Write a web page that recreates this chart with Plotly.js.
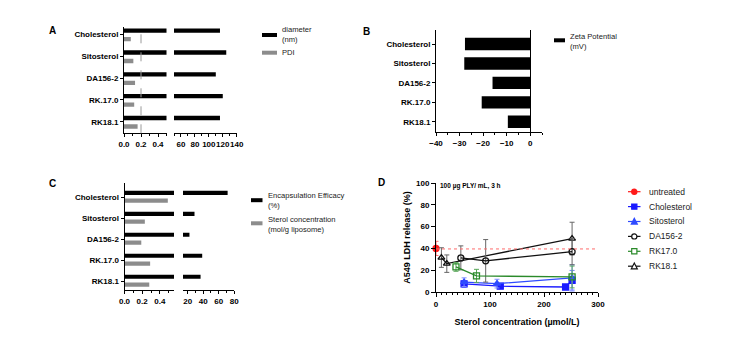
<!DOCTYPE html>
<html><head><meta charset="utf-8">
<script src="https://cdn.plot.ly/plotly-3.0.1.min.js"></script>
<style>html,body{margin:0;padding:0;background:#fff}#chart{width:730px;height:349px}</style>
</head><body><div id="chart"></div>
<script>
// ---------- DATA ----------
const categories = ['Cholesterol', 'Sitosterol', 'DA156-2', 'RK.17.0', 'RK18.1'];
const diameterNm = [116, 125, 110, 120, 116];
const pdi = [0.08, 0.11, 0.13, 0.12, 0.16];
const zetaMv = [-27.7, -28, -16, -20.6, -9.5];
const encapEfficacy = [71.4, 28.8, 22.3, 38.7, 36.6];
const sterolConc = [0.49, 0.23, 0.19, 0.29, 0.28];
const pdiThreshold = 0.2;

const seriesNames = ['untreated', 'Cholesterol', 'Sitosterol', 'DA156-2', 'RK17.0', 'RK18.1'];
const untreatedX = [0], untreatedY = [40], untreatedErr = [6.5];
const cholX = [52, 119, 240, 252], cholY = [7.4, 5.3, 4.6, 10.8], cholErr = [3, 2, 2, 9];
const sitoX = [52, 113, 252], sitoY = [9, 7.7, 12.9], sitoErr = [4, 4, 12];
const da156X = [46, 92, 252], da156Y = [31.3, 28.6, 37], da156Err = [11, 19.5, 12];
const rk170X = [37, 75, 252], rk170Y = [23, 14.8, 13.8], rk170Err = [4, 6, 10];
const rk181X = [10, 20, 252], rk181Y = [31.6, 26, 49], rk181Err = [9, 8, 15];
const untreatedLevel = 39.5;

// ---------- HELPERS ----------
const W = 730, H = 349;
const px = v => v / W;
const py = v => 1 - v / H;
const FONT = 'Liberation Sans, Arial, sans-serif';
const bold = s => ({family: FONT, size: s, color: '#000000', weight: 'bold'});
const reg = s => ({family: FONT, size: s, color: '#1a1a1a'});
const catIndex = categories.map((_, i) => i);

function xAx(d0, d1, range, tickvals, fmt, minorDtick, minorTick0, anchor, extra) {
  return Object.assign({
    domain: [px(d0), px(d1)], range: range, anchor: anchor,
    showline: true, linecolor: '#000', linewidth: 1,
    ticks: 'outside', ticklen: 3, tickwidth: 1, tickcolor: '#000', tickangle: 0,
    tickmode: 'array', tickvals: tickvals, tickformat: fmt, tickfont: bold(8),
    showgrid: false, zeroline: false, fixedrange: true,
    minor: {dtick: minorDtick, tick0: minorTick0, ticks: 'outside', ticklen: 2, tickcolor: '#000', showgrid: false}
  }, extra || {});
}
function yCat(top, bottom, range, anchor) {
  return {
    domain: [py(bottom), py(top)], range: range, anchor: anchor,
    tickmode: 'array', tickvals: catIndex, ticktext: categories,
    showline: true, linecolor: '#000', linewidth: 1,
    ticks: 'outside', ticklen: 3, tickcolor: '#000', tickfont: bold(8),
    showgrid: false, zeroline: false, fixedrange: true
  };
}

const BLACK = '#000000', GRAY = '#8c8c8c';
const traces = [];
function hbar(x, xa, ya, width, offset, color, name) {
  return {type: 'bar', orientation: 'h', x: x, y: catIndex, xaxis: xa, yaxis: ya,
    width: width, offset: offset, marker: {color: color, line: {width: 0}},
    name: name, showlegend: false, cliponaxis: true, hoverinfo: 'x+y'};
}
// Panel A
traces.push(hbar(diameterNm, 'x', 'y', 0.2, -0.27, BLACK, 'diameter (nm)'));
traces.push(hbar(diameterNm, 'x2', 'y', 0.2, -0.27, BLACK, 'diameter (nm)'));
traces.push(hbar(pdi, 'x', 'y', 0.2, 0.12, GRAY, 'PDI'));
// Panel B
traces.push(hbar(zetaMv, 'x3', 'y3', 0.64, -0.32, BLACK, 'Zeta Potential (mV)'));
// Panel C
traces.push(hbar(encapEfficacy, 'x4', 'y4', 0.2, -0.33, BLACK, 'Encapsulation Efficacy (%)'));
traces.push(hbar(encapEfficacy, 'x5', 'y4', 0.2, -0.33, BLACK, 'Encapsulation Efficacy (%)'));
traces.push(hbar(sterolConc, 'x4', 'y4', 0.21, 0.04, GRAY, 'Sterol concentration (mol/g liposome)'));

// Panel D
const dSeries = [
  {name: seriesNames[0], x: untreatedX, y: untreatedY, e: untreatedErr, color: '#ff1a1a', ecolor: '#ff6b6b', symbol: 'circle', open: false, mode: 'markers'},
  {name: seriesNames[1], x: cholX, y: cholY, e: cholErr, color: '#1a1aff', ecolor: '#6f7dff', symbol: 'square', open: false, mode: 'lines+markers'},
  {name: seriesNames[2], x: sitoX, y: sitoY, e: sitoErr, color: '#2f4bff', ecolor: '#8090ff', symbol: 'triangle-up', open: false, mode: 'lines+markers'},
  {name: seriesNames[5], x: rk181X, y: rk181Y, e: rk181Err, color: '#111111', ecolor: '#666666', symbol: 'triangle-up-open', open: true, mode: 'lines+markers'},
  {name: seriesNames[3], x: da156X, y: da156Y, e: da156Err, color: '#111111', ecolor: '#666666', symbol: 'circle-open', open: true, mode: 'lines+markers'},
  {name: seriesNames[4], x: rk170X, y: rk170Y, e: rk170Err, color: '#2a8a2a', ecolor: '#5aa85a', symbol: 'square-open', open: true, mode: 'lines+markers'}
];
dSeries.forEach(s => {
  traces.push({
    type: 'scatter', mode: s.mode, name: s.name, x: s.x, y: s.y, xaxis: 'x6', yaxis: 'y6',
    error_y: {type: 'data', array: s.e, visible: true, color: s.ecolor, thickness: 1, width: 2.5},
    line: {color: s.color, width: 1.3},
    marker: {symbol: s.symbol, size: 6, color: s.color, line: {color: s.color, width: 1.3}},
    cliponaxis: false, showlegend: false
  });
});

// ---------- LAYOUT ----------
const layout = {
  width: W, height: H, margin: {l: 0, r: 0, t: 0, b: 0},
  paper_bgcolor: '#fff', plot_bgcolor: 'rgba(0,0,0,0)',
  barmode: 'overlay', showlegend: false,
  font: {family: FONT, size: 8, color: '#000'},
  // Panel A
  xaxis: xAx(124, 166.5, [0, 0.5], [0, 0.2, 0.4], '.1f', 0.1, 0, 'y'),
  xaxis2: xAx(174, 236.7, [50, 140], [60, 80, 100, 120, 140], 'd', 10, 50, 'y'),
  yaxis: yCat(26.7, 133.3, [4.53, -0.35], 'x'),
  // Panel B
  xaxis3: xAx(436, 542, [-40, 5], [-40, -30, -20, -10, 0], 'd', 5, 0, 'y3',
    {zeroline: true, zerolinecolor: '#000', zerolinewidth: 1}),
  yaxis3: yCat(30, 132.3, [4.54, -0.72], 'x3'),
  // Panel C
  xaxis4: xAx(124.5, 174, [0, 0.56], [0, 0.2, 0.4], '.1f', 0.1, 0, 'y4'),
  xaxis5: xAx(183, 234.3, [14, 80], [20, 40, 60, 80], 'd', 10, 0, 'y4'),
  yaxis4: yCat(182.7, 290, [4.4, -0.71], 'x4'),
  // Panel D
  xaxis6: xAx(436, 598, [0, 300], [0, 100, 200, 300], 'd', 10, 0, 'y6',
    {ticklen: 4, title: {text: 'Sterol concentration (µmol/L)', font: bold(9), standoff: 11}}),
  yaxis6: {
    domain: [py(292), py(183)], range: [0, 100], anchor: 'x6',
    showline: true, linecolor: '#000', linewidth: 1, ticks: 'outside', ticklen: 4, tickcolor: '#000',
    tickmode: 'array', tickvals: [0, 20, 40, 60, 80, 100], tickfont: bold(8),
    showgrid: false, zeroline: false, fixedrange: true,
    title: {text: 'A549 LDH release (%)', font: bold(9), standoff: 3}
  },
  shapes: [], annotations: []
};

// dashed PDI threshold line
layout.shapes.push({type: 'line', xref: 'x', yref: 'paper', x0: pdiThreshold, x1: pdiThreshold,
  y0: py(133.3), y1: py(26.7), line: {color: '#9a9a9a', width: 1, dash: 'dash'}});
// untreated reference dotted line
layout.shapes.push({type: 'line', xref: 'x6', yref: 'y6', x0: 0, x1: 300, y0: untreatedLevel, y1: untreatedLevel,
  line: {color: '#ff6b6b', width: 1, dash: 'dot'}});

// panel letters
[['A', 52, 30], ['B', 366, 31], ['C', 52, 184], ['D', 381, 183]].forEach(([t, x, y]) => {
  layout.annotations.push({text: t, xref: 'paper', yref: 'paper', x: px(x), y: py(y),
    xanchor: 'center', yanchor: 'middle', showarrow: false, font: bold(10)});
});
// D inside note
layout.annotations.push({text: '100 µg PLY/ mL, 3 h', xref: 'paper', yref: 'paper', x: px(438), y: py(185.5),
  xanchor: 'left', yanchor: 'middle', showarrow: false, font: bold(6.5)});

// bar legends (swatch + text)
function barLegend(x0, x1, yc, h, color, text, ty) {
  layout.shapes.push({type: 'rect', xref: 'paper', yref: 'paper', x0: px(x0), x1: px(x1),
    y0: py(yc + h / 2), y1: py(yc - h / 2), fillcolor: color, line: {width: 0}});
  layout.annotations.push({text: text, xref: 'paper', yref: 'paper', x: px(x1 + 3), y: py(ty),
    xanchor: 'left', yanchor: 'middle', align: 'left', showarrow: false, font: reg(7.6)});
}
barLegend(262, 277, 35, 4, BLACK, 'diameter<br>(nm)', 34.5);
barLegend(262, 277, 52.7, 4, GRAY, 'PDI', 52.7);
barLegend(554, 565, 40.3, 4, BLACK, 'Zeta Potential<br>(mV)', 41.5);
barLegend(251, 262.5, 200.2, 4, BLACK, 'Encapsulation Efficacy<br>(%)', 200.2);
barLegend(251, 262.5, 223.3, 4, GRAY, 'Sterol concentration<br>(mol/g liposome)', 224.5);

// scatter legend (panel D), drawn as symbol + text
const legendOrder = [0, 1, 2, 4, 5, 3]; // untreated, Chol, Sito, DA156-2, RK17.0, RK18.1
legendOrder.forEach((si, i) => {
  const s = dSeries[si];
  const cy = 191.7 + i * 14.9, cx = 634.3, r = 2.6;
  layout.shapes.push({type: 'line', xref: 'paper', yref: 'paper', x0: px(628), x1: px(640.5), y0: py(cy), y1: py(cy),
    line: {color: s.color, width: 1.2}});
  const fill = s.open ? '#ffffff' : s.color;
  if (s.symbol.startsWith('circle')) {
    layout.shapes.push({type: 'circle', xref: 'paper', yref: 'paper', x0: px(cx - r), x1: px(cx + r), y0: py(cy + r), y1: py(cy - r),
      fillcolor: fill, line: {color: s.color, width: 1.2}});
  } else if (s.symbol.startsWith('square')) {
    layout.shapes.push({type: 'rect', xref: 'paper', yref: 'paper', x0: px(cx - r), x1: px(cx + r), y0: py(cy + r), y1: py(cy - r),
      fillcolor: fill, line: {color: s.color, width: 1.2}});
  } else {
    const p = `M${px(cx - r - 0.4)},${py(cy + r)} L${px(cx + r + 0.4)},${py(cy + r)} L${px(cx)},${py(cy - r - 0.6)} Z`;
    layout.shapes.push({type: 'path', xref: 'paper', yref: 'paper', path: p, fillcolor: fill, line: {color: s.color, width: 1.2}});
  }
  layout.annotations.push({text: s.name, xref: 'paper', yref: 'paper', x: px(646.5), y: py(cy),
    xanchor: 'left', yanchor: 'middle', showarrow: false, font: reg(8.5)});
});

Plotly.newPlot('chart', traces, layout, {staticPlot: true, displayModeBar: false});
</script>
</body></html>
